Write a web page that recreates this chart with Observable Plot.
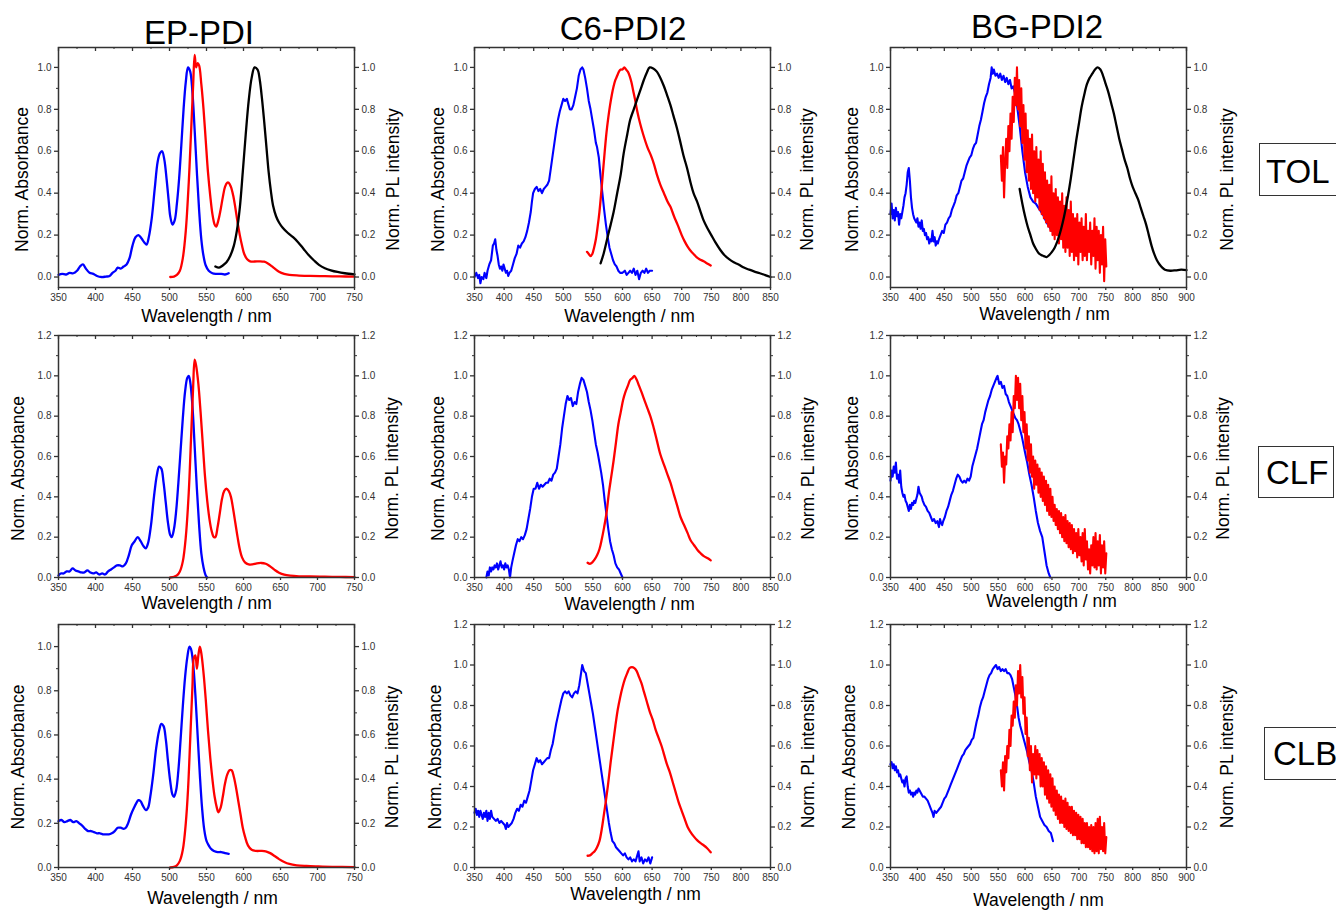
<!DOCTYPE html>
<html><head><meta charset="utf-8">
<script src="https://cdn.jsdelivr.net/npm/d3@7"></script>
<script src="https://cdn.jsdelivr.net/npm/@observablehq/plot@0.6"></script>
<style>
html,body{margin:0;padding:0;background:#fff;}
#root{position:relative;width:1336px;height:911px;overflow:hidden;font-family:"Liberation Sans",Arial,sans-serif;background:#fff;}
.panel{position:absolute;}
.title{position:absolute;font-size:33px;line-height:33px;color:#000;transform:translateX(-50%);white-space:nowrap;}
.box{position:absolute;border:1px solid #333;box-sizing:border-box;background:#fff;}
.box span{position:absolute;font-size:33px;line-height:33px;color:#000;white-space:nowrap;}
</style></head>
<body><div id="root"></div>
<script>
// ---------- labels ----------
const compounds = ["EP-PDI", "C6-PDI2", "BG-PDI2"];
const solvents = ["TOL", "CLF", "CLB"];
const xLabel = "Wavelength / nm";
const yLabelLeft = "Norm. Absorbance";
const yLabelRight = "Norm. PL intensity";

// ---------- tick values ----------
const xTicksEP = [350,400,450,500,550,600,650,700,750];
const xTicksC6 = [350,400,450,500,550,600,650,700,750,800,850];
const xTicksBG = [350,400,450,500,550,600,650,700,750,800,850,900];
const yTicksTo10 = [0,0.2,0.4,0.6,0.8,1.0];
const yTicksTo12 = [0,0.2,0.4,0.6,0.8,1.0,1.2];

// ---------- EP-PDI / TOL ----------
const epTolAbs = [[350,0.01],[355,0.015],[360,0.012],[365,0.02],[370,0.018],[375,0.03],[379,0.05],[383,0.06],[387,0.04],[392,0.02],[397,0.015],[402,0.005],[408,0.0],[414,0.002],[419,0.005],[423,0.02],[427,0.03],[430,0.045],[434,0.04],[438,0.05],[442,0.06],[446,0.09],[450,0.15],[454,0.19],[458,0.20],[462,0.185],[466,0.165],[469,0.155],[472,0.19],[476,0.28],[480,0.42],[484,0.55],[487,0.59],[490,0.60],[493,0.56],[496,0.47],[499,0.36],[501,0.29],[504,0.25],[507,0.27],[510,0.35],[513,0.47],[516,0.63],[519,0.80],[522,0.93],[525,1.0],[528,0.98],[531,0.88],[534,0.70],[537,0.50],[540,0.32],[543,0.18],[546,0.10],[549,0.055],[553,0.03],[558,0.018],[563,0.015],[570,0.015],[575,0.012],[580,0.018]];
const epTolPL = [[501,0.0],[506,0.002],[510,0.01],[514,0.03],[518,0.09],[522,0.22],[526,0.45],[529,0.68],[532,0.92],[534,1.06],[536,1.0],[538,1.02],[540,1.01],[543,0.92],[546,0.80],[549,0.65],[552,0.50],[555,0.39],[558,0.30],[561,0.25],[563,0.24],[566,0.27],[569,0.32],[572,0.38],[575,0.43],[578,0.45],[580,0.45],[583,0.43],[586,0.39],[589,0.33],[592,0.26],[595,0.20],[598,0.15],[601,0.11],[605,0.085],[609,0.075],[615,0.074],[622,0.075],[628,0.073],[633,0.065],[638,0.052],[643,0.038],[648,0.025],[655,0.015],[662,0.01],[675,0.007],[690,0.005],[710,0.004],[730,0.003],[750,0.002]];
const epTolRef = [[562,0.05],[567,0.045],[572,0.055],[577,0.07],[582,0.10],[587,0.15],[591,0.22],[595,0.33],[599,0.50],[603,0.68],[607,0.84],[611,0.95],[615,1.0],[619,0.99],[622,0.94],[625,0.85],[628,0.74],[631,0.62],[634,0.50],[637,0.41],[640,0.34],[644,0.29],[648,0.26],[653,0.235],[660,0.21],[667,0.19],[674,0.165],[681,0.135],[688,0.105],[695,0.08],[702,0.058],[710,0.042],[718,0.032],[727,0.024],[737,0.018],[750,0.013]];

// ---------- C6-PDI2 / TOL ----------
const c6TolAbs = [[350,0.0],[353,0.02],[356,-0.005],[358,0.01],[360,-0.03],[362,0.0],[365,-0.01],[367,0.02],[370,-0.005],[372,0.03],[375,0.06],[378,0.08],[381,0.15],[383,0.16],[385,0.18],[387,0.13],[389,0.1],[391,0.06],[393,0.04],[395,0.05],[397,0.03],[399,0.06],[401,0.04],[403,0.02],[405,0.03],[407,0.005],[409,0.02],[412,0.03],[415,0.06],[418,0.09],[421,0.11],[424,0.15],[427,0.14],[430,0.16],[433,0.17],[436,0.19],[439,0.22],[442,0.26],[445,0.31],[447,0.36],[449,0.40],[452,0.42],[455,0.43],[458,0.41],[461,0.42],[464,0.40],[467,0.42],[470,0.43],[473,0.44],[476,0.46],[479,0.52],[482,0.58],[485,0.64],[488,0.70],[491,0.75],[494,0.79],[497,0.82],[500,0.85],[503,0.84],[506,0.85],[509,0.82],[511,0.80],[514,0.80],[517,0.82],[520,0.86],[523,0.90],[526,0.96],[529,0.99],[532,1.0],[534,0.99],[537,0.95],[540,0.90],[543,0.84],[546,0.80],[549,0.75],[552,0.70],[555,0.64],[557,0.62],[560,0.57],[563,0.48],[566,0.40],[569,0.32],[572,0.25],[575,0.19],[578,0.14],[581,0.11],[584,0.08],[587,0.06],[590,0.05],[593,0.03],[596,0.02],[600,0.02],[604,0.03],[607,0.01],[610,0.02],[613,0.03],[616,0.02],[619,0.04],[622,0.01],[625,0.03],[628,-0.01],[631,0.02],[634,0.03],[637,0.02],[640,0.04],[643,0.02],[646,0.03],[650,0.03]];
const c6TolPL = [[540,0.12],[543,0.11],[546,0.10],[549,0.11],[552,0.14],[555,0.18],[558,0.24],[561,0.31],[564,0.40],[567,0.50],[570,0.60],[573,0.69],[576,0.76],[579,0.82],[582,0.87],[585,0.91],[588,0.94],[591,0.96],[594,0.98],[597,0.99],[600,0.99],[603,1.0],[606,0.99],[609,0.98],[612,0.96],[615,0.93],[618,0.89],[621,0.85],[625,0.79],[630,0.73],[635,0.68],[642,0.62],[648,0.58],[653,0.54],[658,0.49],[664,0.44],[670,0.40],[676,0.36],[681,0.335],[687,0.29],[693,0.25],[700,0.20],[705,0.17],[710,0.145],[715,0.125],[720,0.11],[725,0.095],[730,0.085],[737,0.075],[743,0.065],[749,0.055]];
const c6TolRef = [[563,0.065],[568,0.11],[574,0.18],[580,0.25],[585,0.31],[591,0.40],[597,0.49],[602,0.59],[608,0.68],[613,0.75],[619,0.80],[625,0.85],[630,0.89],[636,0.94],[641,0.975],[646,1.0],[652,0.995],[658,0.98],[664,0.95],[670,0.91],[675,0.87],[681,0.82],[686,0.77],[692,0.71],[698,0.64],[703,0.58],[709,0.52],[715,0.45],[720,0.40],[726,0.36],[732,0.31],[737,0.27],[743,0.235],[750,0.20],[757,0.165],[765,0.13],[772,0.105],[780,0.085],[788,0.07],[796,0.06],[805,0.045],[814,0.035],[822,0.027],[832,0.018],[841,0.009],[850,0.0]];

// ---------- BG-PDI2 / TOL ----------
const bgTolAbs = [[350,0.30],[352,0.35],[354,0.28],[356,0.32],[358,0.27],[360,0.33],[362,0.29],[364,0.31],[366,0.25],[368,0.30],[370,0.28],[372,0.31],[374,0.34],[376,0.38],[378,0.40],[380,0.44],[382,0.50],[384,0.52],[386,0.46],[388,0.38],[390,0.33],[392,0.30],[394,0.28],[396,0.27],[398,0.26],[400,0.28],[402,0.24],[404,0.26],[406,0.23],[408,0.27],[410,0.22],[412,0.23],[414,0.20],[416,0.21],[418,0.18],[420,0.19],[422,0.16],[424,0.18],[426,0.17],[428,0.22],[430,0.17],[432,0.19],[434,0.15],[436,0.17],[438,0.16],[440,0.18],[443,0.20],[446,0.22],[449,0.21],[452,0.25],[455,0.26],[458,0.28],[461,0.29],[464,0.32],[467,0.34],[470,0.36],[473,0.39],[476,0.40],[479,0.43],[482,0.46],[485,0.47],[488,0.50],[491,0.53],[494,0.55],[497,0.57],[500,0.58],[503,0.61],[506,0.63],[509,0.64],[512,0.68],[515,0.72],[518,0.75],[521,0.79],[524,0.83],[527,0.86],[530,0.88],[533,0.92],[536,0.95],[538,1.0],[540,0.97],[542,0.99],[545,0.96],[548,0.97],[551,0.95],[554,0.97],[557,0.94],[560,0.96],[563,0.93],[566,0.95],[569,0.92],[572,0.94],[575,0.90],[578,0.91],[581,0.88],[585,0.82],[590,0.72],[595,0.60],[600,0.50],[605,0.43],[610,0.38],[615,0.36],[620,0.35],[625,0.33],[630,0.31],[635,0.29],[640,0.26],[645,0.24],[650,0.22]];
const bgTolPLStart = 555, bgTolPLStep = 2;
const bgTolPL = [0.58,0.46,0.62,0.38,0.55,0.66,0.52,0.72,0.60,0.78,0.66,0.86,0.74,0.95,0.82,1.0,0.80,0.94,0.72,0.90,0.64,0.82,0.56,0.78,0.50,0.70,0.46,0.66,0.42,0.68,0.40,0.60,0.36,0.62,0.38,0.56,0.32,0.60,0.30,0.54,0.28,0.50,0.26,0.46,0.24,0.44,0.22,0.48,0.20,0.40,0.18,0.42,0.20,0.38,0.16,0.36,0.18,0.40,0.14,0.34,0.12,0.38,0.14,0.32,0.10,0.36,0.12,0.30,0.08,0.28,0.10,0.30,0.06,0.26,0.12,0.28,0.08,0.24,0.10,0.30,0.08,0.22,0.12,0.26,0.06,0.22,0.10,0.28,0.04,0.24,0.08,0.22,0.02,0.20,0.06,0.24,-0.02,0.18,0.05];
const bgTolRef = [[590,0.42],[595,0.35],[600,0.29],[605,0.24],[610,0.20],[615,0.16],[620,0.135],[625,0.115],[630,0.105],[635,0.10],[640,0.095],[645,0.105],[650,0.12],[655,0.14],[660,0.17],[665,0.21],[670,0.26],[675,0.32],[680,0.39],[685,0.47],[690,0.56],[695,0.65],[700,0.73],[705,0.81],[710,0.87],[715,0.92],[720,0.95],[725,0.97],[730,0.99],[735,1.0],[740,0.99],[745,0.96],[750,0.92],[755,0.88],[760,0.83],[765,0.78],[770,0.72],[775,0.66],[780,0.61],[785,0.56],[790,0.52],[795,0.47],[800,0.43],[805,0.40],[810,0.37],[815,0.33],[820,0.29],[825,0.25],[830,0.20],[835,0.15],[840,0.11],[845,0.08],[850,0.06],[855,0.045],[860,0.035],[870,0.03],[880,0.032],[890,0.035],[900,0.033]];

// ---------- EP-PDI / CLF ----------
const epClfAbs = [[350,0.01],[353,0.02],[357,0.02],[361,0.03],[365,0.03],[369,0.045],[373,0.035],[377,0.03],[381,0.025],[385,0.025],[389,0.035],[393,0.025],[397,0.02],[401,0.025],[405,0.015],[409,0.02],[413,0.015],[417,0.03],[421,0.04],[425,0.05],[429,0.06],[433,0.06],[437,0.055],[441,0.07],[445,0.11],[449,0.16],[453,0.18],[457,0.20],[461,0.18],[465,0.155],[468,0.145],[471,0.17],[475,0.26],[479,0.40],[483,0.51],[486,0.55],[489,0.54],[492,0.47],[495,0.37],[498,0.27],[501,0.21],[503,0.20],[506,0.24],[509,0.33],[512,0.47],[515,0.63],[518,0.79],[521,0.92],[524,0.99],[526,1.0],[528,0.97],[531,0.85],[534,0.65],[537,0.44],[540,0.26],[543,0.12],[546,0.05],[549,0.01],[551,0.0]];
const epClfPL = [[501,0.0],[506,0.003],[510,0.01],[514,0.03],[518,0.08],[522,0.20],[526,0.42],[529,0.68],[532,0.95],[534,1.08],[536,1.05],[539,0.96],[542,0.82],[545,0.66],[548,0.50],[551,0.38],[554,0.29],[557,0.23],[560,0.20],[562,0.20],[565,0.25],[568,0.32],[571,0.39],[574,0.43],[577,0.44],[580,0.43],[583,0.40],[586,0.34],[589,0.27],[592,0.20],[595,0.14],[598,0.10],[602,0.075],[607,0.065],[612,0.065],[618,0.07],[624,0.072],[630,0.068],[636,0.055],[642,0.038],[648,0.024],[655,0.014],[663,0.009],[675,0.006],[690,0.005],[710,0.004],[730,0.003],[750,0.002]];

// ---------- C6-PDI2 / CLF ----------
const c6ClfAbs = [[370,0.0],[372,0.03],[374,0.01],[376,0.05],[378,0.03],[380,0.05],[382,0.04],[384,0.06],[386,0.05],[388,0.07],[390,0.04],[392,0.06],[394,0.08],[396,0.05],[398,0.06],[400,0.04],[402,0.07],[404,0.05],[406,0.06],[408,0.04],[410,0.0],[412,0.05],[414,0.08],[417,0.12],[420,0.16],[423,0.19],[426,0.18],[429,0.20],[432,0.19],[435,0.21],[438,0.24],[441,0.29],[444,0.34],[447,0.40],[450,0.44],[453,0.44],[456,0.47],[459,0.44],[462,0.46],[465,0.45],[468,0.46],[471,0.47],[474,0.47],[477,0.49],[480,0.48],[483,0.51],[486,0.52],[489,0.54],[492,0.60],[495,0.66],[498,0.74],[501,0.80],[504,0.86],[507,0.90],[510,0.88],[513,0.89],[516,0.85],[519,0.87],[522,0.86],[525,0.92],[528,0.96],[531,0.99],[534,0.98],[537,0.95],[540,0.92],[543,0.87],[546,0.83],[549,0.78],[552,0.72],[555,0.66],[558,0.62],[561,0.57],[564,0.52],[567,0.46],[570,0.38],[573,0.31],[576,0.24],[579,0.18],[582,0.14],[585,0.11],[588,0.07],[591,0.05],[594,0.04],[597,0.02],[600,0.0]];
const c6ClfPL = [[541,0.073],[545,0.068],[549,0.075],[553,0.09],[557,0.11],[561,0.14],[565,0.19],[569,0.25],[573,0.32],[577,0.42],[581,0.50],[585,0.58],[589,0.67],[593,0.76],[597,0.82],[601,0.88],[605,0.92],[609,0.95],[613,0.98],[617,0.99],[620,1.0],[624,0.98],[628,0.95],[632,0.92],[637,0.88],[642,0.84],[647,0.80],[652,0.75],[658,0.68],[664,0.61],[670,0.56],[676,0.51],[681,0.47],[687,0.41],[693,0.35],[698,0.30],[704,0.26],[710,0.22],[715,0.185],[721,0.16],[727,0.135],[732,0.12],[738,0.105],[744,0.095],[749,0.085]];

// ---------- BG-PDI2 / CLF ----------
const bgClfAbs = [[350,0.48],[352,0.53],[354,0.50],[356,0.55],[358,0.52],[360,0.57],[362,0.49],[364,0.51],[366,0.47],[368,0.53],[370,0.45],[372,0.42],[374,0.40],[376,0.41],[378,0.38],[380,0.37],[382,0.35],[384,0.33],[386,0.36],[388,0.34],[390,0.37],[392,0.36],[394,0.38],[396,0.37],[398,0.39],[400,0.41],[402,0.45],[404,0.42],[406,0.41],[408,0.40],[410,0.38],[413,0.36],[416,0.35],[419,0.33],[422,0.32],[425,0.30],[428,0.28],[431,0.29],[434,0.27],[437,0.28],[440,0.25],[442,0.29],[444,0.27],[446,0.26],[448,0.28],[451,0.30],[454,0.33],[457,0.35],[460,0.38],[463,0.41],[466,0.43],[469,0.46],[472,0.49],[475,0.51],[478,0.50],[481,0.48],[484,0.47],[487,0.48],[490,0.47],[493,0.49],[496,0.48],[499,0.50],[502,0.55],[505,0.58],[508,0.61],[511,0.64],[514,0.68],[517,0.72],[520,0.76],[523,0.78],[526,0.82],[529,0.85],[532,0.88],[535,0.90],[538,0.93],[541,0.95],[544,0.97],[547,0.99],[549,1.0],[552,0.96],[555,0.97],[558,0.94],[561,0.95],[564,0.91],[567,0.90],[570,0.87],[573,0.85],[576,0.83],[579,0.81],[582,0.79],[585,0.78],[588,0.76],[591,0.73],[594,0.70],[597,0.66],[600,0.62],[604,0.57],[608,0.51],[612,0.46],[616,0.40],[620,0.33],[624,0.27],[628,0.23],[632,0.20],[636,0.13],[640,0.06],[644,0.02],[647,0.0]];
const bgClfPLStart = 555, bgClfPLStep = 2;
const bgClfPL = [0.66,0.55,0.62,0.47,0.60,0.56,0.70,0.64,0.76,0.68,0.82,0.72,0.90,0.84,1.0,0.88,0.99,0.84,0.96,0.78,0.90,0.72,0.82,0.64,0.76,0.58,0.70,0.52,0.66,0.50,0.60,0.44,0.58,0.46,0.56,0.42,0.54,0.40,0.52,0.38,0.50,0.36,0.48,0.33,0.46,0.31,0.44,0.30,0.40,0.28,0.36,0.26,0.34,0.24,0.33,0.22,0.32,0.20,0.30,0.18,0.31,0.17,0.28,0.15,0.27,0.14,0.26,0.12,0.24,0.13,0.22,0.10,0.24,0.11,0.20,0.08,0.22,0.06,0.24,0.09,0.18,0.04,0.14,0.02,0.16,0.06,0.20,0.05,0.22,0.04,0.18,0.06,0.21,0.02,0.16,0.05,0.18,0.02,0.12];

// ---------- EP-PDI / CLB ----------
const epClbAbs = [[350,0.21],[354,0.215],[358,0.205],[362,0.21],[366,0.215],[370,0.205],[374,0.21],[378,0.20],[382,0.19],[386,0.175],[390,0.165],[394,0.165],[398,0.16],[402,0.155],[406,0.155],[410,0.15],[414,0.15],[418,0.15],[422,0.155],[426,0.165],[430,0.18],[434,0.18],[438,0.175],[441,0.18],[444,0.20],[448,0.24],[452,0.27],[455,0.29],[458,0.305],[461,0.30],[464,0.28],[468,0.26],[471,0.27],[474,0.32],[478,0.42],[482,0.54],[486,0.62],[489,0.65],[492,0.64],[495,0.58],[498,0.48],[501,0.39],[504,0.33],[506,0.32],[509,0.35],[512,0.44],[515,0.58],[518,0.73],[521,0.86],[524,0.95],[527,1.0],[529,0.99],[532,0.92],[535,0.78],[538,0.60],[541,0.42],[544,0.27],[547,0.17],[550,0.12],[553,0.10],[556,0.085],[560,0.075],[565,0.07],[570,0.07],[575,0.065],[580,0.062]];
const epClbPL = [[501,0.0],[506,0.003],[510,0.01],[514,0.03],[518,0.08],[522,0.20],[525,0.35],[528,0.58],[531,0.82],[533,0.95],[535,0.96],[537,0.90],[539,0.96],[541,1.0],[543,0.97],[546,0.88],[549,0.76],[552,0.62],[555,0.50],[558,0.40],[561,0.32],[564,0.27],[566,0.25],[569,0.27],[572,0.32],[575,0.38],[578,0.42],[581,0.44],[584,0.44],[587,0.41],[590,0.36],[593,0.30],[596,0.24],[599,0.18],[602,0.14],[606,0.10],[611,0.08],[617,0.075],[624,0.075],[630,0.073],[636,0.065],[642,0.052],[648,0.038],[655,0.025],[662,0.016],[672,0.01],[685,0.007],[700,0.005],[720,0.003],[750,0.002]];

// ---------- C6-PDI2 / CLB ----------
const c6ClbAbs = [[350,0.27],[352,0.29],[354,0.26],[356,0.28],[358,0.25],[360,0.28],[362,0.26],[364,0.24],[366,0.27],[368,0.25],[370,0.28],[372,0.23],[374,0.27],[376,0.24],[378,0.28],[380,0.25],[383,0.24],[386,0.23],[389,0.24],[392,0.22],[395,0.23],[398,0.22],[401,0.21],[403,0.19],[405,0.22],[407,0.20],[410,0.21],[413,0.22],[416,0.24],[419,0.27],[422,0.29],[425,0.28],[428,0.31],[431,0.30],[434,0.33],[437,0.32],[440,0.35],[443,0.38],[446,0.43],[449,0.48],[452,0.51],[455,0.54],[458,0.52],[461,0.53],[464,0.51],[467,0.52],[470,0.53],[473,0.54],[476,0.54],[479,0.58],[482,0.61],[485,0.66],[488,0.71],[491,0.75],[494,0.79],[497,0.83],[500,0.86],[503,0.87],[506,0.86],[509,0.87],[512,0.85],[515,0.84],[518,0.86],[521,0.87],[524,0.86],[527,0.90],[530,0.96],[532,1.0],[535,0.97],[538,0.96],[541,0.91],[544,0.86],[547,0.81],[550,0.76],[553,0.70],[556,0.64],[559,0.58],[562,0.52],[565,0.46],[568,0.40],[571,0.34],[574,0.28],[577,0.22],[580,0.17],[583,0.13],[586,0.12],[589,0.10],[592,0.09],[595,0.08],[598,0.07],[601,0.06],[604,0.07],[607,0.05],[610,0.04],[613,0.05],[616,0.03],[619,0.04],[622,0.03],[625,0.06],[627,0.08],[629,0.03],[632,0.05],[635,0.02],[638,0.04],[641,0.03],[644,0.05],[647,0.02],[650,0.05]];
const c6ClbPL = [[541,0.058],[545,0.06],[549,0.07],[553,0.08],[557,0.10],[561,0.13],[565,0.19],[569,0.27],[572,0.33],[576,0.42],[580,0.52],[584,0.61],[588,0.70],[592,0.78],[596,0.84],[600,0.89],[604,0.93],[608,0.96],[612,0.985],[616,0.99],[620,0.985],[624,0.97],[628,0.94],[632,0.91],[636,0.87],[641,0.82],[646,0.77],[651,0.73],[656,0.68],[661,0.64],[666,0.60],[670,0.56],[675,0.51],[680,0.47],[685,0.42],[690,0.37],[695,0.32],[700,0.28],[705,0.24],[710,0.20],[715,0.175],[720,0.155],[726,0.135],[732,0.12],[737,0.11],[743,0.095],[749,0.075]];

// ---------- BG-PDI2 / CLB ----------
const bgClbAbs = [[350,0.51],[352,0.52],[354,0.49],[356,0.51],[358,0.48],[360,0.50],[362,0.47],[364,0.48],[366,0.45],[368,0.46],[370,0.44],[372,0.42],[374,0.43],[376,0.40],[378,0.44],[380,0.45],[382,0.40],[384,0.37],[386,0.38],[388,0.36],[390,0.37],[392,0.35],[394,0.37],[396,0.36],[398,0.38],[400,0.37],[402,0.39],[404,0.38],[406,0.37],[408,0.36],[410,0.35],[413,0.35],[416,0.34],[419,0.33],[422,0.31],[425,0.29],[428,0.27],[430,0.25],[432,0.28],[435,0.27],[438,0.28],[441,0.29],[444,0.30],[447,0.32],[450,0.34],[453,0.35],[456,0.37],[459,0.39],[462,0.41],[465,0.43],[468,0.45],[471,0.47],[474,0.49],[477,0.51],[480,0.53],[483,0.55],[486,0.56],[489,0.58],[492,0.59],[495,0.60],[498,0.61],[501,0.63],[504,0.64],[507,0.68],[510,0.72],[513,0.75],[516,0.79],[519,0.82],[522,0.84],[525,0.87],[528,0.90],[531,0.93],[534,0.95],[537,0.96],[540,0.98],[543,0.99],[546,1.0],[549,0.98],[552,0.99],[555,0.97],[558,0.98],[561,0.97],[564,0.98],[567,0.96],[570,0.96],[573,0.95],[576,0.93],[579,0.89],[582,0.85],[585,0.80],[588,0.74],[591,0.70],[594,0.67],[597,0.64],[600,0.61],[604,0.57],[608,0.52],[612,0.48],[616,0.42],[620,0.35],[624,0.30],[628,0.25],[632,0.23],[636,0.21],[640,0.20],[644,0.18],[648,0.17],[650,0.15],[652,0.13]];
const bgClbPLStart = 555, bgClbPLStep = 2;
const bgClbPL = [0.48,0.40,0.52,0.38,0.55,0.47,0.60,0.54,0.68,0.60,0.75,0.70,0.82,0.74,0.90,0.80,0.97,0.86,1.0,0.84,0.94,0.76,0.84,0.66,0.74,0.55,0.64,0.48,0.60,0.42,0.56,0.46,0.60,0.44,0.58,0.46,0.56,0.40,0.54,0.40,0.52,0.36,0.50,0.34,0.48,0.32,0.46,0.30,0.44,0.28,0.40,0.26,0.38,0.24,0.36,0.22,0.35,0.22,0.33,0.20,0.34,0.19,0.32,0.18,0.30,0.17,0.30,0.16,0.28,0.16,0.27,0.14,0.26,0.14,0.25,0.12,0.24,0.12,0.22,0.10,0.22,0.10,0.20,0.09,0.21,0.08,0.20,0.07,0.22,0.08,0.24,0.07,0.25,0.09,0.20,0.08,0.22,0.07,0.15];

// ---------- helpers ----------
const pairs = (arr) => arr.map(([x, y]) => ({x, y}));
const seq = (start, step, vals) => vals.map((y, i) => ({x: start + i * step, y}));
const BLUE = "#0000ff", RED = "#ff0000", BLACK = "#000000";

const cols = [{left: 58, w: 296}, {left: 474, w: 296}, {left: 890, w: 296}];
const rows = [{top: 47, h: 240}, {top: 335, h: 242}, {top: 624, h: 243}];

const panelSpecs = [
  {r:0,c:0,xd:[350,750],xt:xTicksEP,yd:[-0.05,1.095],yt:yTicksTo10,
   s:[[pairs(epTolAbs),BLUE,1],[pairs(epTolPL),RED,1],[pairs(epTolRef),BLACK,1]], lab:[0,29,-36,39,12]},
  {r:0,c:1,xd:[350,850],xt:xTicksC6,yd:[-0.05,1.095],yt:yTicksTo10,
   s:[[pairs(c6TolAbs),BLUE,0],[pairs(c6TolPL),RED,1],[pairs(c6TolRef),BLACK,1]], lab:[7,29,-36,37,12]},
  {r:0,c:2,xd:[350,900],xt:xTicksBG,yd:[-0.05,1.095],yt:yTicksTo10,
   s:[[pairs(bgTolAbs),BLUE,0],[seq(bgTolPLStart,bgTolPLStep,bgTolPL),RED,0],[pairs(bgTolRef),BLACK,1]], lab:[6,27,-38,41,12]},
  {r:1,c:0,xd:[350,750],xt:xTicksEP,yd:[0,1.2],yt:yTicksTo12,
   s:[[pairs(epClfAbs),BLUE,1],[pairs(epClfPL),RED,1]], lab:[0,26,-40,38,12]},
  {r:1,c:1,xd:[350,850],xt:xTicksC6,yd:[0,1.2],yt:yTicksTo12,
   s:[[pairs(c6ClfAbs),BLUE,0],[pairs(c6ClfPL),RED,1]], lab:[7,27,-36,38,12]},
  {r:1,c:2,xd:[350,900],xt:xTicksBG,yd:[0,1.2],yt:yTicksTo12,
   s:[[pairs(bgClfAbs),BLUE,0],[seq(bgClfPLStart,bgClfPLStep,bgClfPL),RED,0]], lab:[13,24,-38,37,12]},
  {r:2,c:0,xd:[350,750],xt:xTicksEP,yd:[0,1.1],yt:yTicksTo10,
   s:[[pairs(epClbAbs),BLUE,1],[pairs(epClbPL),RED,1]], lab:[6,31,-40,38,11]},
  {r:2,c:1,xd:[350,850],xt:xTicksC6,yd:[0,1.2],yt:yTicksTo12,
   s:[[pairs(c6ClbAbs),BLUE,0],[pairs(c6ClbPL),RED,1]], lab:[13,27,-39,38,11]},
  {r:2,c:2,xd:[350,900],xt:xTicksBG,yd:[0,1.2],yt:yTicksTo12,
   s:[[pairs(bgClbAbs),BLUE,0],[seq(bgClbPLStart,bgClbPLStep,bgClbPL),RED,0]], lab:[0,33,-41,41,11]}
];

const root = document.getElementById("root");
const ML = 62, MR = 62, MT = 10, MB = 50;
const FONT = "'Liberation Sans', Arial, sans-serif";

for (const p of panelSpecs) {
  const col = cols[p.c], row = rows[p.r];
  const W = col.w + ML + MR, H = row.h + MT + MB;
  const yMinor = d3.range(0.1, p.yd[1], 0.2).filter(v => v > p.yd[0] && v < p.yd[1] - 0.02);
  const xMinor = d3.range(p.xd[0] + 25, p.xd[1], 50);
  const [xdx, xdy, ldx, rdx, ydy] = p.lab;
  const frameStroke = "#333";
  const chart = Plot.plot({
    width: W, height: H,
    marginLeft: ML, marginRight: MR, marginTop: MT, marginBottom: MB,
    x: {domain: p.xd},
    y: {domain: p.yd},
    style: {fontFamily: FONT, fontSize: "10px", color: "#333", background: "transparent", overflow: "visible"},
    marks: [
      ...p.s.map(([data, color, smooth]) => Plot.line(data, {
        x: "x", y: "y", stroke: color, strokeWidth: smooth ? 2.3 : 2.1,
        curve: smooth ? "catmull-rom" : "linear", strokeLinejoin: "round"
      })),
      Plot.frame({stroke: frameStroke, strokeWidth: 1.5}),
      Plot.axisY({anchor: "left", ticks: p.yt, tickSize: 4, tickPadding: 3, tickFormat: d3.format(".1f"), label: null, strokeWidth: 1.3}),
      Plot.axisY({anchor: "left", ticks: yMinor, tickSize: 2, tickFormat: () => "", label: null}),
      Plot.axisY({anchor: "right", ticks: p.yt, tickSize: 4, tickPadding: 3, tickFormat: d3.format(".1f"), label: null, strokeWidth: 1.3}),
      Plot.axisY({anchor: "right", ticks: yMinor, tickSize: 2, tickFormat: () => "", label: null}),
      Plot.axisX({anchor: "bottom", ticks: p.xt, tickSize: 3, tickPadding: 3, tickFormat: d => String(d), label: null, strokeWidth: 1.3}),
      Plot.ruleX(p.xt, {stroke: frameStroke, strokeWidth: 1.3, insetBottom: row.h - 4}),
      Plot.ruleX(xMinor, {stroke: frameStroke, strokeWidth: 1, insetBottom: row.h - 2}),
      Plot.text([xLabel], {text: d => d, frameAnchor: "bottom", lineAnchor: "middle", textAnchor: "middle", dx: xdx, dy: xdy, fontSize: 17.5, fill: "#000"}),
      Plot.text([yLabelLeft], {text: d => d, frameAnchor: "left", lineAnchor: "middle", textAnchor: "middle", rotate: -90, dx: ldx, dy: ydy, fontSize: 17.5, fill: "#000"}),
      Plot.text([yLabelRight], {text: d => d, frameAnchor: "right", lineAnchor: "middle", textAnchor: "middle", rotate: -90, dx: rdx, dy: ydy, fontSize: 17.5, fill: "#000"})
    ]
  });
  const wrap = document.createElement("div");
  wrap.className = "panel";
  wrap.style.left = (col.left - ML) + "px";
  wrap.style.top = (row.top - MT) + "px";
  wrap.appendChild(chart);
  root.appendChild(wrap);
}

// titles
const titlePos = [{x: 199, top: 16}, {x: 623, top: 12}, {x: 1037, top: 10}];
compounds.forEach((t, i) => {
  const d = document.createElement("div");
  d.className = "title";
  d.textContent = t;
  d.style.left = titlePos[i].x + "px";
  d.style.top = titlePos[i].top + "px";
  root.appendChild(d);
});

// solvent boxes
const boxPos = [{l: 1259, t: 143, w: 90, h: 53, tx: 6, ty: 11}, {l: 1258, t: 446, w: 76, h: 52, tx: 7, ty: 9}, {l: 1264, t: 727, w: 90, h: 53, tx: 8, ty: 9}];
solvents.forEach((s, i) => {
  const b = boxPos[i];
  const d = document.createElement("div");
  d.className = "box";
  d.style.left = b.l + "px"; d.style.top = b.t + "px";
  d.style.width = b.w + "px"; d.style.height = b.h + "px";
  const sp = document.createElement("span");
  sp.textContent = s;
  sp.style.left = b.tx + "px"; sp.style.top = b.ty + "px";
  d.appendChild(sp);
  root.appendChild(d);
});
</script>
</body></html>
